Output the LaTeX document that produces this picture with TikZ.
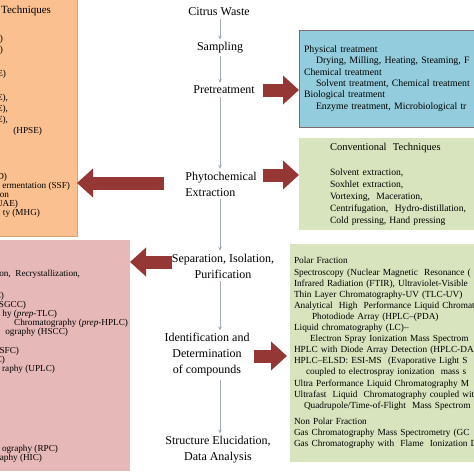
\documentclass[tikz,border=0pt]{standalone}
\usepackage{fontspec}
\setmainfont{Liberation Serif}
\usetikzlibrary{arrows.meta}

\definecolor{boxblue}{HTML}{93CDDD}
\definecolor{boxgreen}{HTML}{D7E4BD}
\definecolor{boxorange}{HTML}{FAC090}
\definecolor{boxpink}{HTML}{E6B9B8}
\definecolor{bluerim}{HTML}{7D6B6E}
\definecolor{orangerim}{HTML}{D9A374}
\definecolor{arrowred}{HTML}{953735}
\definecolor{flowgray}{HTML}{A3ABB8}

\begin{document}
\begin{tikzpicture}[
  x=1pt, y=-1pt,
  every node/.style = {inner sep=0pt, outer sep=0pt},
  stage/.style = {font=\fontsize{12}{16}\selectfont, align=center, inner sep=3pt},
  infobox/.style = {anchor=north west, align=left, text width=200pt,
    font=\fontsize{9.8}{11.3}\selectfont},
  cutline/.style = {anchor=base east, font=\fontsize{9.2}{10}\selectfont},
  flow/.style = {flowgray, line width=0.6pt, -{Stealth[length=4pt,width=3.5pt]}},
  block/.style = {arrowred, line width=13pt, -{Triangle[length=16pt,width=28pt]}}
  ]
  \useasboundingbox (0,0) rectangle (474,474);
  \clip (0,0) rectangle (474,474);

  % boxes on the left, cut by the edge
  \node[anchor=north east, minimum width=100pt, minimum height=246pt,
    fill=boxorange, draw=orangerim, line width=0.6pt] (newtech) at (77,-10) {};
  \node[anchor=north east, minimum width=150pt, minimum height=231pt,
    fill=boxpink] (purif) at (130,240) {};

  \node[cutline, font=\fontsize{11}{12}\selectfont] (o1) at (51,13) {Techniques};
  \node[cutline] (o2) at (3,41) {)};
  \node[cutline] (o3) at (3,52) {)};
  \node[cutline] (o4) at (6,76) {E)};
  \node[cutline] (o5) at (8,100) {E),};
  \node[cutline] (o6) at (8,111) {E),};
  \node[cutline] (o7) at (8,122) {E),};
  \node[cutline] (o8) at (42,133) {(HPSE)};
  \node[cutline] (o9) at (7,179) {D)};
  \node[cutline] (o10) at (70,188) {ermentation (SSF)};
  \node[cutline] (o11) at (9,197) {on};
  \node[cutline] (o12) at (18,206) {UAE)};
  \node[cutline] (o13) at (40,215) {ty (MHG)};

  \node[cutline] (p1) at (80,276) {on,\ \ Recrystallization,};
  \node[cutline] (p2) at (4,298) {C)};
  \node[cutline] (p3) at (26,307) {SGCC)};
  \node[cutline] (p4) at (57,316) {hy (\textit{prep}-TLC)};
  \node[cutline] (p5) at (128,325) {Chromatography (\textit{prep}-HPLC)};
  \node[cutline] (p6) at (68,334) {ography (HSCC)};
  \node[cutline] (p7) at (19,353) {SFC)};
  \node[cutline] (p8) at (5,362) {C)};
  \node[cutline] (p9) at (55,371) {raphy (UPLC)};
  \node[cutline] (p10) at (58,451) {ography (RPC)};
  \node[cutline] (p11) at (42,460) {aphy (HIC)};

  % boxes on the right
  \node[infobox, fill=boxblue, draw=bluerim, line width=1pt, inner xsep=5pt,
    minimum height=97pt] (treat) at (299,30)
    {Physical treatment\\
     \hspace*{12pt}Drying, Milling, Heating, Steaming, F\\
     Chemical treatment\\
     \hspace*{12pt}Solvent treatment, Chemical treatment\\
     Biological treatment\\
     \hspace*{12pt}Enzyme treatment, Microbiological tr};
  \node[infobox, fill=boxgreen, inner xsep=31pt, minimum height=92pt,
    font=\fontsize{9.6}{12}\selectfont] (conv) at (299,138)
    {{\fontsize{10.5}{12}\selectfont Conventional\ \ Techniques}\\[13pt]
     Solvent extraction,\\
     Soxhlet extraction,\\
     Vortexing,\ \ Maceration,\\
     Centrifugation,\ \ Hydro-distillation,\\
     Cold pressing, Hand pressing};
  \node[infobox, fill=boxgreen, inner xsep=4pt, minimum height=218pt,
    font=\fontsize{9.3}{11.1}\selectfont] (analysis) at (290,244)
    {Polar Fraction\\
     Spectroscopy (Nuclear Magnetic\ \ Resonance (\\
     Infrared Radiation (FTIR), Ultraviolet-Visible\\
     Thin Layer Chromatography-UV (TLC-UV)\\
     Analytical\ \ High\ \ Performance Liquid Chromat\\
     \hspace*{18pt}Photodiode Array (HPLC--(PDA)\\
     Liquid chromatography (LC)--\\
     \hspace*{16pt}Electron Spray Ionization Mass Spectrom\\
     HPLC with Diode Array Detection (HPLC-DA\\
     HPLC--ELSD: ESI-MS\ \ (Evaporative Light S\\
     \hspace*{12pt}coupled to electrospray ionization\ \ mass s\\
     Ultra Performance Liquid Chromatography M\\
     Ultrafast\ \ Liquid\ \ Chromatography coupled wit\\
     \hspace*{10pt}Quadrupole/Time-of-Flight\ \ Mass Spectrom\\[5pt]
     Non Polar Fraction\\
     Gas Chromatography Mass Spectrometry (GC\\
     Gas Chromatography with\ \ Flame\ \ Ionization D};

  % main stages
  \coordinate (spine) at (220,0);
  \node[stage] (cw) at (219,12) {Citrus Waste};
  \node[stage] (samp) at (220,48) {Sampling};
  \node[stage] (pre) at (224,90) {Pretreatment};
  \node[stage, align=left] (phyto) at (221,184) {Phytochemical\\Extraction};
  \node[stage] (sep) at (223,266) {Separation, Isolation,\\Purification};
  \node[stage] (ident) at (207,355) {Identification and\\Determination\\of compounds};
  \node[stage] (struct) at (218,450) {Structure Elucidation,\\Data Analysis};

  \draw[flow] (cw.south -| spine) -- (samp.north -| spine);
  \draw[flow] (samp.south -| spine) -- (pre.north -| spine);
  \draw[flow] (pre.south -| spine) -- (phyto.north -| spine);
  \draw[flow] (phyto.south -| spine) -- (sep.north -| spine);
  \draw[flow] (sep.south -| spine) -- (ident.north -| spine);
  \draw[flow] (ident.south -| spine) -- (struct.north -| spine);

  % red arrows to the boxes
  \coordinate (pa) at ([xshift=5pt]pre.east);
  \coordinate (pb) at ([xshift=3pt,yshift=9pt]phyto.east);
  \coordinate (pc) at ([xshift=-18pt,yshift=1pt]phyto.west);
  \coordinate (pd) at ([xshift=3pt,yshift=4pt]sep.west);
  \coordinate (pe) at ([xshift=2pt,yshift=-1pt]ident.east);
  \draw[block] (pa) -- (pa -| treat.west);
  \draw[block] (pb) -- (pb -| conv.west);
  \draw[block] (pc) -- (pc -| newtech.east);
  \draw[block] (pd) -- (pd -| purif.east);
  \draw[block, shorten >=3pt] (pe) -- (pe -| analysis.west);
\end{tikzpicture}
\end{document}
